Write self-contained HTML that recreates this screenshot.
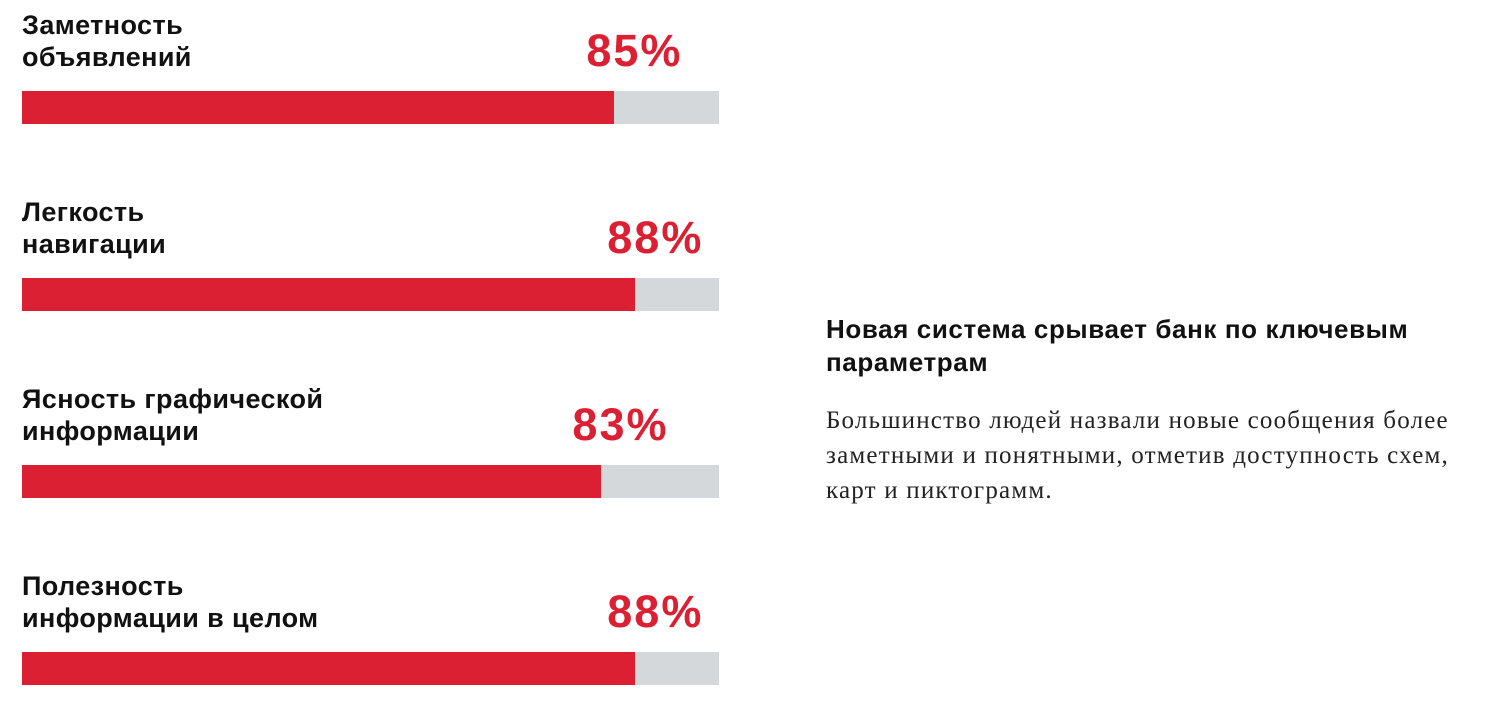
<!DOCTYPE html>
<html><head><meta charset="utf-8"><style>
body{margin:0;width:1494px;height:719px;background:#fff;position:relative;overflow:hidden;font-family:"Liberation Sans","DejaVu Sans",sans-serif}
.lbl{position:absolute;left:22px;font-weight:bold;font-size:27px;line-height:32px;color:#111;letter-spacing:0.4px}
.pct{position:absolute;font-weight:bold;font-size:45px;line-height:44px;color:#dc2033;text-align:right;width:200px;letter-spacing:2px}
.track{position:absolute;left:22px;width:697px;height:33px;background:#d5d8db}
.fill{position:absolute;left:0;top:0;height:33px;background:#dc2033}
#h{position:absolute;left:826px;top:313px;font-weight:bold;font-size:26px;line-height:33px;color:#111;letter-spacing:0.6px}
#b{position:absolute;left:826px;top:403px;font-family:"Liberation Serif",serif;font-size:25px;line-height:35px;color:#222;letter-spacing:1.2px}
</style></head><body>
<div id="chart"></div>
<div id="h">Новая система срывает банк по ключевым<br>параметрам</div>
<div id="b">Большинство людей назвали новые сообщения более<br>заметными и понятными, отметив доступность схем,<br>карт и пиктограмм.</div>
<script>
const categories=[["Заметность","объявлений"],["Легкость","навигации"],["Ясность графической","информации"],["Полезность","информации в целом"]];
const values=[85,88,83,88];
const valueLabels=["85%","88%","83%","88%"];
const chart=document.getElementById('chart');
const W=697,X0=22;
function xs(v){return v/100*W;}
categories.forEach((c,i)=>{
  const top=i*187;
  const l=document.createElement('div');l.className='lbl';l.style.top=(top+9)+'px';l.innerHTML=c.join('<br>');
  
  
  chart.appendChild(l);
  const t=document.createElement('div');t.className='track';t.style.top=(top+91)+'px';
  
  
  const f=document.createElement('div');f.className='fill';f.style.width=xs(values[i])+'px';
  
  
  t.appendChild(f);chart.appendChild(t);
  const p=document.createElement('div');p.className='pct';p.textContent=valueLabels[i];
  p.style.top=(top+29)+'px';p.style.left=(X0+xs(values[i])+68-200)+'px';
  
  
  chart.appendChild(p);
});
</script>
</body></html>
